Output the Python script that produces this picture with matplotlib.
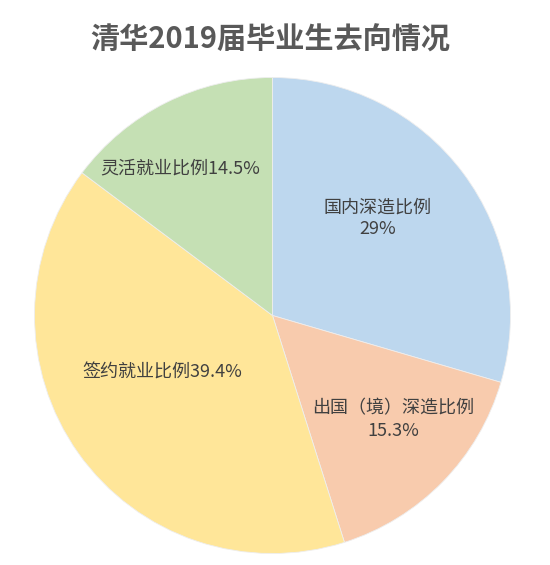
import matplotlib.pyplot as plt
import numpy as np

plt.rcParams['font.family'] = ['Noto Sans CJK SC', 'DejaVu Sans']

# data
names = ['国内深造比例', '出国（境）深造比例', '签约就业比例', '灵活就业比例']
values = [29, 15.3, 39.4, 14.5]
colors = ['#BDD7EE', '#F8CBAD', '#FFE699', '#C5E0B4']
seps = ['\n', '\n', '', '']

# label placement (fraction of radius, angle shift from wedge middle)
label_r = [0.60, 0.67, 0.52, 0.73]
label_shift = [6, 3.5, -8, 5.4]

fig = plt.figure(figsize=(5.5, 5.65), dpi=100)
fig.patch.set_facecolor('white')

ax = fig.add_axes([(272.5 - 238) / 550, (565 - 553.5) / 565, 476 / 550, 476 / 565])
wedges, _ = ax.pie(values, colors=colors, startangle=90, counterclock=False,
                   radius=1, frame=False,
                   wedgeprops=dict(edgecolor='#eeeeee', linewidth=0.6))
ax.set_xlim(-1, 1)
ax.set_ylim(-1, 1)
ax.set_aspect('equal')
ax.axis('off')

for w, name, v, sep, r, sh in zip(wedges, names, values, seps, label_r, label_shift):
    mid = np.deg2rad((w.theta1 + w.theta2) / 2 + sh)
    ax.text(r * np.cos(mid), r * np.sin(mid), f'{name}{sep}{v:g}%',
            ha='center', va='center', fontsize=13, color='#404040',
            linespacing=1.3)

fig.text(0.492, 1 - 40 / 565, '清华2019届毕业生去向情况', ha='center', va='center',
         fontsize=21, fontweight='bold', color='#595959')

fig.savefig('out.png', dpi=100)
